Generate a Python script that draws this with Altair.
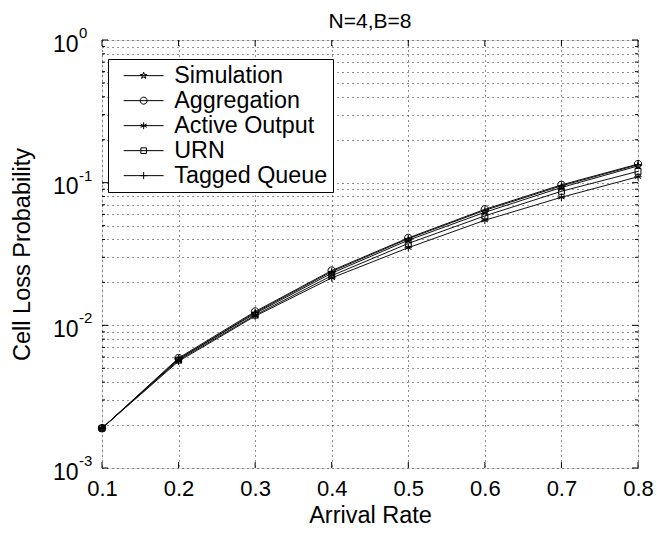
import altair as alt
import pandas as pd

# Arrival rates on the x axis
arrival_rate = [0.1, 0.2, 0.3, 0.4, 0.5, 0.6, 0.7, 0.8]

# Cell loss probability for each model
simulation = [0.0019, 0.0058, 0.0121, 0.0232, 0.0395, 0.0620, 0.0925, 0.1310]
aggregation = [0.0019, 0.0059, 0.0125, 0.0242, 0.0410, 0.0650, 0.0965, 0.1350]
active_output = [0.0019, 0.0056, 0.0116, 0.0215, 0.0350, 0.0545, 0.0790, 0.1100]
urn = [0.0019, 0.0057, 0.0118, 0.0223, 0.0375, 0.0585, 0.0870, 0.1200]
tagged_queue = [0.0019, 0.0058, 0.0123, 0.0238, 0.0405, 0.0640, 0.0950, 0.1335]

series_names = ["Simulation", "Aggregation", "Active Output", "URN", "Tagged Queue"]
series_values = [simulation, aggregation, active_output, urn, tagged_queue]

# Log-axis decades and their exponents
decades = [1.0, 0.1, 0.01, 0.001]
exponents = ["0", "-1", "-2", "-3"]

FONT = "Liberation Sans"
W, H = 536, 428

# Marker glyphs (unit-square SVG paths)
STAR = ("M0,-1L0.2245,-0.309L0.9511,-0.309L0.3633,0.118L0.5878,0.809L0,0.382"
        "L-0.5878,0.809L-0.3633,0.118L-0.9511,-0.309L-0.2245,-0.309Z")
CIRCLE = "M-1,0A1,1 0 1,0 1,0A1,1 0 1,0 -1,0Z"
ASTER = "M0,-1V1M-0.87,-0.5L0.87,0.5M-0.87,0.5L0.87,-0.5M-1,0H1"
SQUARE = "M-0.8,-0.8H0.8V0.8H-0.8Z"
PLUS = "M-1,0H1M0,-1V1"
markers = [STAR, CIRCLE, ASTER, SQUARE, PLUS]
# Legend keys: a line segment through each marker
LINE = "M-5.7,0H5.7"
legend_keys = [LINE + m for m in markers]

rows = []
for name, vals in zip(series_names, series_values):
    for x, y in zip(arrival_rate, vals):
        rows.append({"rate": x, "clp": y, "series": name, "key": name})
df = pd.DataFrame(rows)

major_y = [1.0, 0.1, 0.01, 0.001]
minor_y = [m * 10.0 ** e for e in (-3, -2, -1) for m in range(2, 10)]
ytick_values = sorted(major_y + minor_y)

grid_style = dict(grid=True, gridDash=[1, 4], gridColor="#000000", gridOpacity=0.85, gridWidth=1)

x_enc = alt.X(
    "rate:Q",
    scale=alt.Scale(domain=[0.1, 0.8], nice=False, zero=False),
    axis=alt.Axis(
        values=arrival_rate, format=".1f", title="Arrival Rate",
        ticks=False, domain=False, labelPadding=10, labelFlush=False,
        labelFont=FONT, labelFontSize=22, labelColor="#000000",
        titleFont=FONT, titleFontSize=23.5, titleFontWeight="normal", titleColor="#000000",
        titleX=W / 2, titleY=47, titleBaseline="middle", titleAlign="center",
        **grid_style,
    ),
)
y_enc = alt.Y(
    "clp:Q",
    scale=alt.Scale(type="log", domain=[0.001, 1], nice=False),
    axis=alt.Axis(
        values=ytick_values, title="Cell Loss Probability",
        labelExpr="abs(log(datum.value)/LN10 - round(log(datum.value)/LN10)) < 1e-6 ? '10' : ''",
        ticks=False, domain=False, labelPadding=24, labelBaseline="middle",
        labelOffset=4, labelFlush=False,
        labelFont=FONT, labelFontSize=23, labelColor="#000000",
        titleFont=FONT, titleFontSize=23.5, titleFontWeight="normal", titleColor="#000000",
        titleX=-80, titleY=H / 2, titleAngle=-90, titleBaseline="middle", titleAlign="center",
        **grid_style,
    ),
)

lines = alt.Chart(df).mark_line(color="#111111", strokeWidth=1).encode(
    x=x_enc, y=y_enc, detail="series:N"
)

points = alt.Chart(df).mark_point(
    filled=False, color="#000000", opacity=1, size=55, strokeWidth=1
).encode(
    x="rate:Q", y="clp:Q",
    shape=alt.Shape("series:N", scale=alt.Scale(domain=series_names, range=markers), legend=None),
)

# Legend-only layer: no rows survive the filter, the legend comes from the scale domain
legend_layer = alt.Chart(df).mark_point(
    filled=False, color="#000000", opacity=1, size=49, strokeWidth=1
).encode(
    shape=alt.Shape(
        "key:N",
        scale=alt.Scale(domain=series_names, range=legend_keys),
        legend=alt.Legend(
            title=None, orient="none", legendX=6, legendY=19,
            labelFont=FONT, labelFontSize=23.3, labelColor="#000000",
            symbolSize=49, symbolStrokeColor="#000000", symbolFillColor="transparent",
            symbolStrokeWidth=1, symbolOffset=19, labelOffset=19,
            strokeColor="#000000", fillColor="#ffffff",
            padding=5, rowPadding=1,
        ),
    ),
).transform_filter("false")

# Inward tick marks on all four sides
xt_df = pd.DataFrame({"rate": arrival_rate})
ymaj_df = pd.DataFrame({"clp": major_y})
ymin_df = pd.DataFrame({"clp": minor_y})
tick_style = dict(color="#000000", strokeWidth=1)
x_ticks_bottom = alt.Chart(xt_df).mark_rule(**tick_style).encode(
    x="rate:Q", y=alt.value(H), y2=alt.value(H - 6))
x_ticks_top = alt.Chart(xt_df).mark_rule(**tick_style).encode(
    x="rate:Q", y=alt.value(0), y2=alt.value(6))
y_major_left = alt.Chart(ymaj_df).mark_rule(**tick_style).encode(
    y="clp:Q", x=alt.value(0), x2=alt.value(6))
y_major_right = alt.Chart(ymaj_df).mark_rule(**tick_style).encode(
    y="clp:Q", x=alt.value(W), x2=alt.value(W - 6))
y_minor_left = alt.Chart(ymin_df).mark_rule(**tick_style).encode(
    y="clp:Q", x=alt.value(0), x2=alt.value(3))
y_minor_right = alt.Chart(ymin_df).mark_rule(**tick_style).encode(
    y="clp:Q", x=alt.value(W), x2=alt.value(W - 3))

exp_df = pd.DataFrame({"clp": decades, "exp": exponents})
exp_text = alt.Chart(exp_df).mark_text(
    align="left", baseline="middle", dy=-7, font=FONT, fontSize=15, color="#000000"
).encode(x=alt.value(-23), y=alt.Y("clp:Q"), text="exp:N")

chart = (
    alt.layer(lines, points, legend_layer, x_ticks_bottom, x_ticks_top,
              y_major_left, y_major_right, y_minor_left, y_minor_right, exp_text)
    .resolve_scale(shape="independent")
    .resolve_legend(shape="independent")
    .properties(
        width=W, height=H,
        title=alt.Title("N=4,B=8", font=FONT, fontSize=21, fontWeight="normal",
                        color="#000000", offset=12, dy=18, anchor="middle"),
        autosize=alt.AutoSizeParams(type="none"),
        padding={"left": 102, "top": 40, "right": 19, "bottom": 66},
    )
    .configure_view(stroke="#000000", strokeWidth=1.3)
    .configure(background="#ffffff")
)

chart.save("out.html", embed_options={"renderer": "svg", "actions": False})
